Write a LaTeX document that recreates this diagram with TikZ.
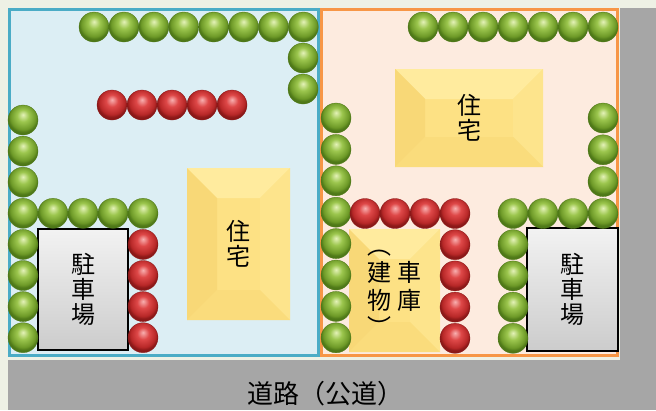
\documentclass[tikz,border=0pt]{standalone}
\usepackage{fontspec}
\usepackage{tikz}
\newfontfamily\jpfont{Noto Sans CJK JP}

\definecolor{pagebg}{HTML}{EEF1E5}
\definecolor{roadgray}{HTML}{A6A6A6}
\definecolor{lotblue}{HTML}{4BACC6}
\definecolor{lotbluefill}{HTML}{DCEEF4}
\definecolor{lotorange}{HTML}{F79646}
\definecolor{lotorangefill}{HTML}{FDEBDF}
\definecolor{houseyellow}{HTML}{FDE184}
\definecolor{houselight}{HTML}{FFEB9E}
\definecolor{houseleft}{HTML}{F8D877}
\definecolor{houseright}{HTML}{FDE48C}
\definecolor{housebottom}{HTML}{FADC7C}
\definecolor{gballhi}{HTML}{E4F2B8}
\definecolor{gballmid}{HTML}{9CC64E}
\definecolor{gballdark}{HTML}{6E9A28}
\definecolor{gballedge}{HTML}{4E7818}
\definecolor{rballhi}{HTML}{F8B0B0}
\definecolor{rballmid}{HTML}{DE4848}
\definecolor{rballdark}{HTML}{B82828}
\definecolor{rballedge}{HTML}{8A1818}

\pgfdeclareradialshading{greenball}{\pgfpoint{0bp}{9bp}}{color(0bp)=(gballhi); color(10bp)=(gballmid); color(21bp)=(gballdark); color(25bp)=(gballedge); color(50bp)=(gballedge)}
\pgfdeclareradialshading{redball}{\pgfpoint{0bp}{9bp}}{color(0bp)=(rballhi); color(10bp)=(rballmid); color(21bp)=(rballdark); color(25bp)=(rballedge); color(50bp)=(rballedge)}

\newcommand\boxfont{\jpfont\fontsize{24}{25}\selectfont}

\tikzset{
    ball/.style={circle, minimum size=30pt, inner sep=0pt, line width=0.3pt},
    greenball/.style={ball, shade, shading=greenball, draw=gballedge},
    redball/.style={ball, shade, shading=redball, draw=rballedge},
    parkbox/.style={draw=black, line width=1.5pt, top color=white!95!black, bottom color=white!80!black,
        font=\boxfont, align=center, inner sep=0pt},
    bevelbox/.style={fill=houseyellow, font=\boxfont, align=center, inner sep=0pt,
        path picture={
            \fill[houselight] (path picture bounding box.north west) -- (path picture bounding box.north east)
                -- ([shift={(-30,30)}]path picture bounding box.north east) -- ([shift={(30,30)}]path picture bounding box.north west) -- cycle;
            \fill[houseleft] (path picture bounding box.north west) -- ([shift={(30,30)}]path picture bounding box.north west)
                -- ([shift={(30,-30)}]path picture bounding box.south west) -- (path picture bounding box.south west) -- cycle;
            \fill[houseright] (path picture bounding box.north east) -- ([shift={(-30,30)}]path picture bounding box.north east)
                -- ([shift={(-30,-30)}]path picture bounding box.south east) -- (path picture bounding box.south east) -- cycle;
            \fill[housebottom] (path picture bounding box.south west) -- ([shift={(30,-30)}]path picture bounding box.south west)
                -- ([shift={(-30,-30)}]path picture bounding box.south east) -- (path picture bounding box.south east) -- cycle;
        }},
}

\begin{document}
\begin{tikzpicture}[x=1pt, y=-1pt]
    \useasboundingbox (0,0) rectangle (656,410);
    \fill[pagebg] (0,0) rectangle (656,410);
    \fill[roadgray] (8,360) rectangle (656,410);
    \fill[roadgray] (620,8) rectangle (656,410);
    \node[font=\jpfont\fontsize{26}{26}\selectfont, inner sep=0pt] (road) at (325,394) {道路（公道）};

    % lots
    \filldraw[draw=lotblue, fill=lotbluefill, line width=3pt] (9.5,9.5) rectangle (318,355.5);
    \filldraw[draw=lotorange, fill=lotorangefill, line width=3pt] (321,9.5) rectangle (617.5,355.5);

    % buildings
    \node[bevelbox, minimum width=103pt, minimum height=152pt] (houseL) at (238.5,244) {住\\宅};
    \node[bevelbox, minimum width=148pt, minimum height=98pt] (houseR) at (469,118) {住\\宅};
    \node[bevelbox, minimum width=91pt, minimum height=123pt] (garage) at (394.5,290.5)
        {\begin{tabular}{@{}c@{\hspace{7pt}}c@{}}︵&\\建&車\\物&庫\\︶&\end{tabular}};
    \node[parkbox, minimum width=90pt, minimum height=121pt] (parkL) at (83,289.5) {駐\\車\\場};
    \node[parkbox, minimum width=91pt, minimum height=123pt] (parkR) at (572.5,289.5) {駐\\車\\場};

    % left lot hedge
    \foreach \i in {0,...,7}
        \node[greenball] (lt\i) at ({94+29.9*\i},27) {};
    \node[greenball] (lr1) at (303,58) {};
    \node[greenball] (lr2) at (303,89) {};
    \foreach \i in {0,...,7}
        \node[greenball] (ll\i) at (23,{120+31.1*\i}) {};
    \foreach \i in {1,...,4}
        \node[greenball] (lm\i) at ({23+30*\i},213.3) {};
    \foreach \i in {0,...,4}
        \node[redball] (lred\i) at ({112+30*\i},105) {};
    \foreach \i in {1,...,4}
        \node[redball] (lrc\i) at (143,{213.3+31.1*\i}) {};

    % right lot hedge
    \foreach \i in {0,...,6}
        \node[greenball] (rt\i) at ({423+30*\i},27) {};
    \foreach \i in {0,...,7}
        \node[greenball] (rl\i) at (336,{118+31.4*\i}) {};
    \foreach \i in {0,...,3}
        \node[greenball] (rr\i) at (603,{118+31.8*\i}) {};
    \foreach \i in {0,...,2}
        \node[greenball] (rb\i) at ({513+30*\i},213.5) {};
    \foreach \i in {1,...,4}
        \node[greenball] (rp\i) at (513,{213.5+31.2*\i}) {};
    \foreach \i in {0,...,3}
        \node[redball] (rred\i) at ({365+30*\i},213.5) {};
    \foreach \i in {1,...,4}
        \node[redball] (rrc\i) at (455,{213.5+31.2*\i}) {};
\end{tikzpicture}
\end{document}
